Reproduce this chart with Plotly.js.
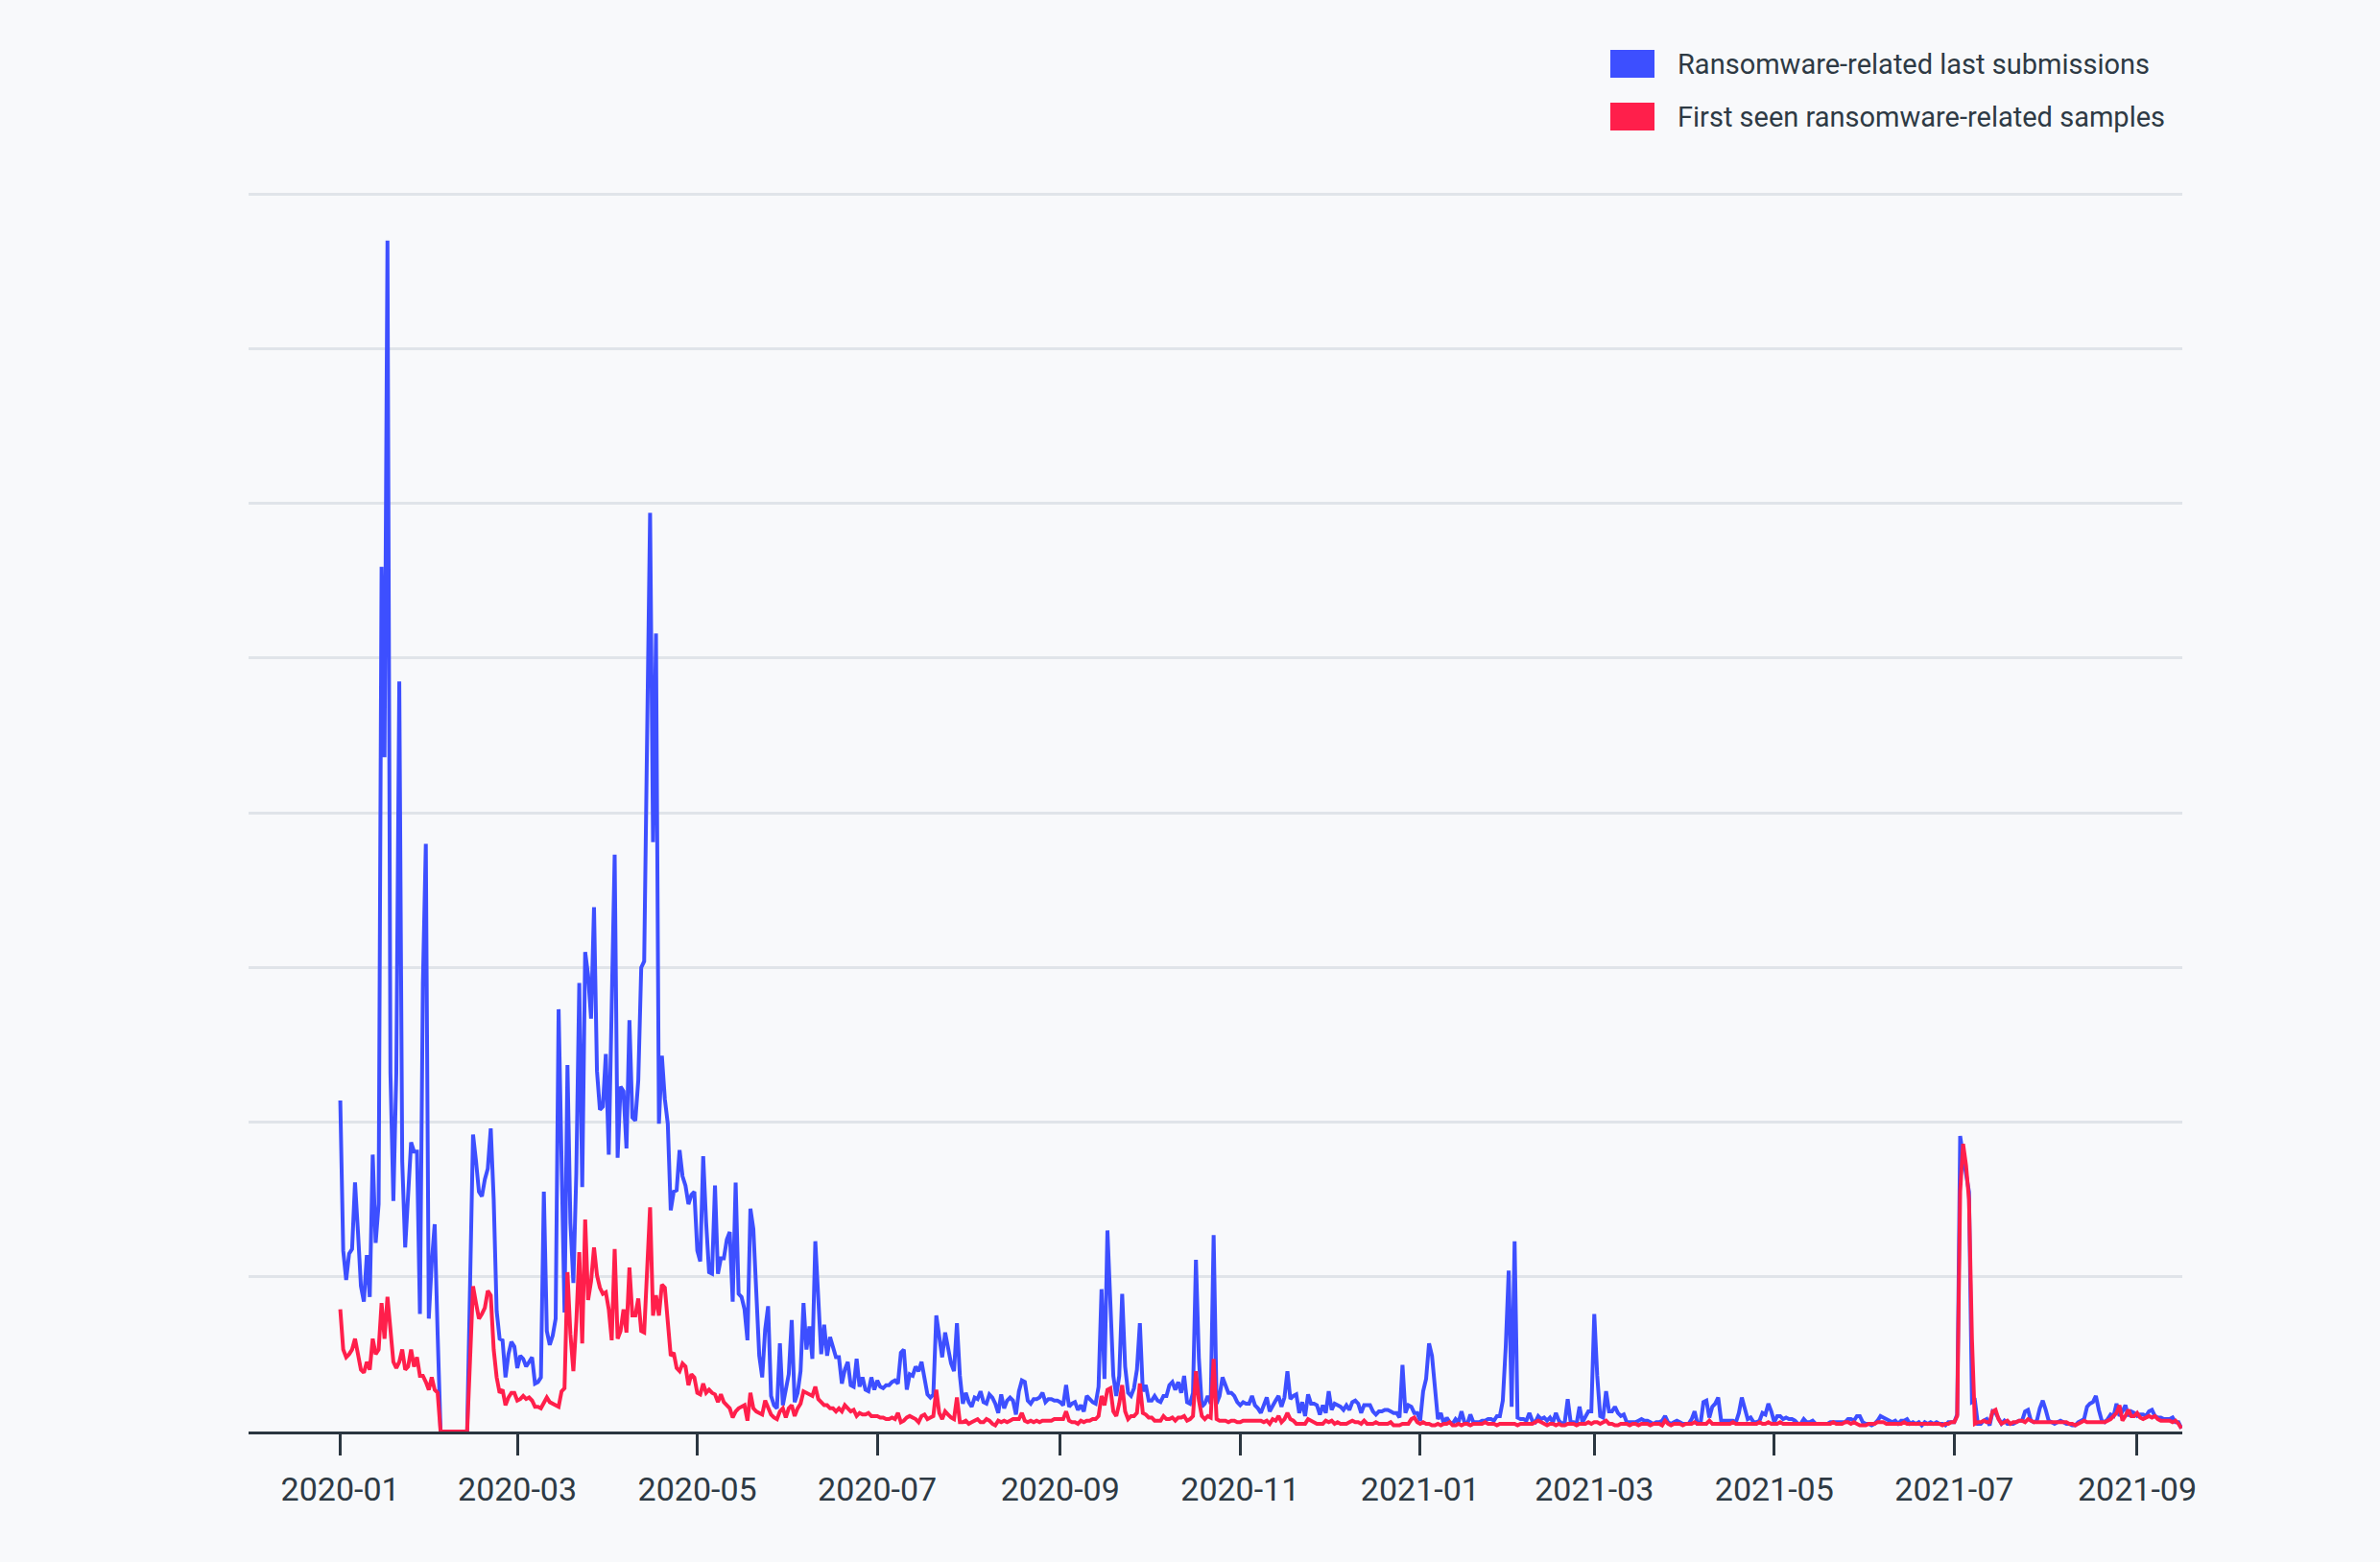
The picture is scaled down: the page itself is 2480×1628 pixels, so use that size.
<!DOCTYPE html>
<html>
<head>
<meta charset="utf-8">
<script src="https://cdn.plot.ly/plotly-3.0.1.min.js"></script>
<style>
  html, body { margin: 0; padding: 0; background: #f8f9fb; }
  #chart { width: 2480px; height: 1628px; }
</style>
</head>
<body>
<div id="chart"></div>
<script>
///////////////////////////////////////////////////////////////////////////////
// daily values from 2020-01-01, one gridline = 1 unit (axis has no labels)
const startDay = '2020-01-01';

const lastSubmissions = [
  // 2020-01
  2.14, 1.17, 0.98, 1.15, 1.18, 1.61, 1.29, 0.94, 0.84, 1.14, 0.87, 1.79, 1.22, 1.47, 5.59, 4.36,
  7.70, 2.32, 1.49, 2.32, 4.85, 1.75, 1.19, 1.50, 1.87, 1.81, 1.81, 0.76, 2.90, 3.80, 0.73,
  // 2020-02
  1.09, 1.34, 0.63, 0, 0, 0, 0, 0, 0, 0, 0, 0, 0, 0.96, 1.92, 1.75, 1.55, 1.52, 1.63, 1.70,
  1.96, 1.50, 0.78, 0.60, 0.59, 0.35, 0.50, 0.58, 0.55,
  // 2020-03
  0.41, 0.49, 0.47, 0.42, 0.45, 0.48, 0.31, 0.32, 0.35, 1.55, 0.65, 0.56, 0.62, 0.73, 2.73, 1.59,
  0.77, 2.37, 1.35, 0.96, 1.67, 2.90, 1.58, 3.10, 2.95, 2.67, 3.39, 2.33, 2.08, 2.10, 2.44,
  // 2020-04
  1.79, 2.75, 3.73, 1.77, 2.23, 2.20, 1.83, 2.66, 2.03, 2.01, 2.27, 3.00, 3.04, 4.50, 5.94, 3.81,
  5.16, 1.99, 2.43, 2.15, 1.99, 1.43, 1.55, 1.56, 1.82, 1.65, 1.59, 1.47, 1.53, 1.55,
  // 2020-05
  1.17, 1.10, 1.78, 1.35, 1.03, 1.02, 1.59, 1.02, 1.12, 1.12, 1.24, 1.29, 0.84, 1.61, 0.89, 0.87,
  0.79, 0.59, 1.44, 1.31, 0.95, 0.49, 0.35, 0.66, 0.81, 0.23, 0.17, 0.15, 0.57, 0.17, 0.27,
  // 2020-06
  0.37, 0.72, 0.19, 0.25, 0.39, 0.83, 0.53, 0.68, 0.47, 1.23, 0.91, 0.50, 0.69, 0.49, 0.61, 0.54,
  0.48, 0.48, 0.31, 0.40, 0.45, 0.30, 0.29, 0.47, 0.29, 0.35, 0.27, 0.26, 0.35, 0.27,
  // 2020-07
  0.33, 0.29, 0.28, 0.30, 0.30, 0.32, 0.33, 0.31, 0.51, 0.53, 0.27, 0.37, 0.36, 0.42, 0.39, 0.45,
  0.34, 0.24, 0.22, 0.24, 0.75, 0.59, 0.48, 0.64, 0.55, 0.44, 0.39, 0.70, 0.36, 0.18, 0.25,
  // 2020-08
  0.19, 0.16, 0.22, 0.21, 0.26, 0.19, 0.18, 0.24, 0.22, 0.18, 0.12, 0.24, 0.15, 0.20, 0.22, 0.20,
  0.11, 0.26, 0.33, 0.32, 0.20, 0.18, 0.21, 0.21, 0.22, 0.25, 0.19, 0.21, 0.21, 0.20, 0.20,
  // 2020-09
  0.19, 0.17, 0.30, 0.16, 0.18, 0.19, 0.14, 0.17, 0.13, 0.23, 0.21, 0.19, 0.18, 0.29, 0.92, 0.34,
  1.30, 0.88, 0.36, 0.23, 0.36, 0.89, 0.42, 0.25, 0.23, 0.28, 0.40, 0.70, 0.26, 0.30,
  // 2020-10
  0.20, 0.20, 0.23, 0.20, 0.19, 0.23, 0.23, 0.30, 0.32, 0.27, 0.32, 0.25, 0.36, 0.19, 0.18, 0.25,
  1.11, 0.47, 0.16, 0.18, 0.23, 0.18, 1.27, 0.18, 0.23, 0.35, 0.30, 0.25, 0.25, 0.23, 0.19,
  // 2020-11
  0.17, 0.19, 0.18, 0.18, 0.23, 0.17, 0.15, 0.12, 0.17, 0.22, 0.13, 0.17, 0.20, 0.23, 0.16, 0.22,
  0.39, 0.21, 0.23, 0.24, 0.12, 0.19, 0.10, 0.24, 0.18, 0.18, 0.17, 0.11, 0.17, 0.12,
  // 2020-12
  0.26, 0.14, 0.18, 0.17, 0.16, 0.14, 0.17, 0.14, 0.19, 0.20, 0.18, 0.12, 0.17, 0.17, 0.17, 0.13,
  0.11, 0.13, 0.13, 0.14, 0.14, 0.13, 0.12, 0.12, 0.09, 0.43, 0.12, 0.17, 0.16, 0.12, 0.12,
  // 2021-01
  0.07, 0.26, 0.34, 0.57, 0.49, 0.30, 0.08, 0.12, 0.05, 0.09, 0.06, 0.05, 0.08, 0.06, 0.13, 0.06,
  0.05, 0.11, 0.06, 0.06, 0.06, 0.07, 0.07, 0.08, 0.08, 0.07, 0.10, 0.10, 0.20, 0.55, 1.04,
  // 2021-02
  0.16, 1.23, 0.09, 0.08, 0.08, 0.07, 0.12, 0.07, 0.06, 0.10, 0.08, 0.09, 0.07, 0.09, 0.06, 0.12,
  0.07, 0.05, 0.06, 0.21, 0.06, 0.06, 0.05, 0.16, 0.06, 0.10, 0.13, 0.13,
  // 2021-03
  0.76, 0.36, 0.10, 0.09, 0.26, 0.13, 0.13, 0.16, 0.12, 0.10, 0.11, 0.06, 0.06, 0.06, 0.06, 0.07,
  0.08, 0.07, 0.07, 0.06, 0.05, 0.06, 0.06, 0.07, 0.10, 0.06, 0.05, 0.06, 0.07, 0.06, 0.05,
  // 2021-04
  0.05, 0.05, 0.08, 0.13, 0.05, 0.05, 0.19, 0.20, 0.09, 0.16, 0.18, 0.22, 0.07, 0.07, 0.07, 0.07,
  0.07, 0.06, 0.12, 0.22, 0.14, 0.08, 0.09, 0.06, 0.06, 0.07, 0.12, 0.11, 0.18, 0.13,
  // 2021-05
  0.06, 0.10, 0.10, 0.08, 0.09, 0.08, 0.08, 0.07, 0.05, 0.05, 0.08, 0.06, 0.06, 0.07, 0.05, 0.05,
  0.05, 0.05, 0.05, 0.06, 0.06, 0.06, 0.06, 0.06, 0.06, 0.08, 0.08, 0.07, 0.10, 0.10, 0.06,
  // 2021-06
  0.05, 0.05, 0.04, 0.05, 0.07, 0.10, 0.09, 0.08, 0.07, 0.06, 0.07, 0.05, 0.07, 0.07, 0.08, 0.05,
  0.06, 0.05, 0.06, 0.04, 0.06, 0.05, 0.06, 0.05, 0.06, 0.05, 0.05, 0.04, 0.06, 0.06,
  // 2021-07
  0.06, 0.11, 1.91, 1.78, 1.66, 1.55, 0.19, 0.20, 0.05, 0.05, 0.07, 0.08, 0.04, 0.13, 0.12, 0.08,
  0.05, 0.07, 0.05, 0.05, 0.05, 0.06, 0.07, 0.07, 0.13, 0.14, 0.07, 0.06, 0.07, 0.15, 0.20,
  // 2021-08
  0.14, 0.07, 0.06, 0.05, 0.06, 0.07, 0.06, 0.05, 0.05, 0.04, 0.04, 0.06, 0.07, 0.08, 0.16, 0.18,
  0.19, 0.23, 0.14, 0.07, 0.06, 0.08, 0.11, 0.10, 0.18, 0.10, 0.13, 0.17, 0.10, 0.13, 0.12,
  // 2021-09
  0.10, 0.11, 0.11, 0.10, 0.13, 0.14, 0.10, 0.09, 0.09, 0.08, 0.08, 0.08, 0.09, 0.06, 0.06, 0.02
];

const firstSeen = [
  // 2020-01
  0.79, 0.53, 0.48, 0.50, 0.53, 0.60, 0.50, 0.40, 0.38, 0.45, 0.40, 0.60, 0.50, 0.53, 0.83, 0.60,
  0.87, 0.63, 0.45, 0.41, 0.45, 0.53, 0.40, 0.42, 0.53, 0.42, 0.48, 0.36, 0.36, 0.32, 0.27,
  // 2020-02
  0.35, 0.27, 0.25, 0, 0, 0, 0, 0, 0, 0, 0, 0, 0, 0.47, 0.94, 0.83, 0.73, 0.76, 0.80, 0.91,
  0.88, 0.53, 0.35, 0.25, 0.27, 0.17, 0.22, 0.25, 0.25,
  // 2020-03
  0.20, 0.21, 0.23, 0.21, 0.22, 0.20, 0.16, 0.16, 0.15, 0.19, 0.22, 0.19, 0.18, 0.17, 0.16, 0.26,
  0.28, 1.03, 0.63, 0.39, 0.71, 1.16, 0.57, 1.37, 0.85, 0.97, 1.19, 1.01, 0.93, 0.89, 0.90,
  // 2020-04
  0.79, 0.59, 1.18, 0.60, 0.65, 0.79, 0.64, 1.06, 0.75, 0.75, 0.86, 0.65, 0.64, 1.03, 1.45, 0.75,
  0.88, 0.75, 0.95, 0.93, 0.71, 0.49, 0.51, 0.41, 0.39, 0.44, 0.42, 0.30, 0.37, 0.35,
  // 2020-05
  0.25, 0.24, 0.31, 0.25, 0.27, 0.25, 0.24, 0.19, 0.24, 0.19, 0.17, 0.15, 0.09, 0.13, 0.15, 0.16,
  0.17, 0.07, 0.25, 0.15, 0.13, 0.12, 0.11, 0.20, 0.15, 0.11, 0.09, 0.08, 0.13, 0.15, 0.09,
  // 2020-06
  0.15, 0.17, 0.10, 0.15, 0.18, 0.26, 0.25, 0.24, 0.23, 0.29, 0.21, 0.19, 0.17, 0.17, 0.15, 0.15,
  0.13, 0.15, 0.13, 0.17, 0.15, 0.13, 0.14, 0.10, 0.12, 0.11, 0.11, 0.12, 0.10, 0.10,
  // 2020-07
  0.10, 0.09, 0.09, 0.08, 0.08, 0.09, 0.08, 0.12, 0.06, 0.07, 0.09, 0.10, 0.09, 0.08, 0.06, 0.10,
  0.11, 0.08, 0.09, 0.10, 0.27, 0.12, 0.08, 0.13, 0.11, 0.09, 0.08, 0.22, 0.06, 0.06, 0.07,
  // 2020-08
  0.05, 0.06, 0.07, 0.08, 0.06, 0.06, 0.08, 0.07, 0.05, 0.04, 0.07, 0.06, 0.07, 0.06, 0.07, 0.08,
  0.08, 0.08, 0.12, 0.07, 0.06, 0.07, 0.06, 0.07, 0.06, 0.07, 0.07, 0.07, 0.07, 0.08, 0.08,
  // 2020-09
  0.08, 0.08, 0.13, 0.07, 0.06, 0.06, 0.05, 0.07, 0.06, 0.07, 0.07, 0.08, 0.08, 0.10, 0.23, 0.17,
  0.27, 0.28, 0.13, 0.10, 0.18, 0.30, 0.13, 0.08, 0.10, 0.10, 0.12, 0.31, 0.12, 0.11,
  // 2020-10
  0.09, 0.09, 0.07, 0.07, 0.07, 0.10, 0.08, 0.08, 0.09, 0.07, 0.09, 0.09, 0.10, 0.07, 0.08, 0.10,
  0.39, 0.20, 0.10, 0.08, 0.10, 0.09, 0.47, 0.08, 0.07, 0.07, 0.07, 0.06, 0.07, 0.07, 0.06,
  // 2020-11
  0.06, 0.07, 0.07, 0.07, 0.07, 0.07, 0.07, 0.07, 0.06, 0.07, 0.05, 0.08, 0.07, 0.10, 0.06, 0.08,
  0.12, 0.08, 0.07, 0.05, 0.05, 0.05, 0.05, 0.08, 0.07, 0.06, 0.05, 0.05, 0.05, 0.07,
  // 2020-12
  0.06, 0.07, 0.05, 0.06, 0.05, 0.05, 0.05, 0.06, 0.07, 0.06, 0.06, 0.05, 0.07, 0.05, 0.05, 0.05,
  0.06, 0.05, 0.05, 0.05, 0.05, 0.06, 0.04, 0.04, 0.04, 0.05, 0.05, 0.05, 0.08, 0.09, 0.06,
  // 2021-01
  0.05, 0.06, 0.05, 0.05, 0.04, 0.04, 0.05, 0.04, 0.05, 0.05, 0.06, 0.04, 0.04, 0.05, 0.04, 0.05,
  0.05, 0.04, 0.05, 0.05, 0.05, 0.05, 0.06, 0.05, 0.05, 0.05, 0.04, 0.05, 0.05, 0.05, 0.05,
  // 2021-02
  0.05, 0.05, 0.04, 0.05, 0.05, 0.05, 0.05, 0.05, 0.06, 0.07, 0.06, 0.05, 0.04, 0.05, 0.05, 0.04,
  0.05, 0.04, 0.04, 0.05, 0.05, 0.05, 0.04, 0.05, 0.05, 0.05, 0.06, 0.05,
  // 2021-03
  0.06, 0.06, 0.05, 0.06, 0.07, 0.05, 0.05, 0.04, 0.04, 0.05, 0.05, 0.05, 0.04, 0.05, 0.05, 0.04,
  0.05, 0.05, 0.05, 0.04, 0.05, 0.05, 0.05, 0.04, 0.07, 0.05, 0.04, 0.05, 0.05, 0.05, 0.04,
  // 2021-04
  0.05, 0.05, 0.05, 0.06, 0.05, 0.05, 0.05, 0.05, 0.07, 0.05, 0.05, 0.05, 0.05, 0.05, 0.05, 0.05,
  0.06, 0.05, 0.05, 0.05, 0.05, 0.05, 0.05, 0.05, 0.05, 0.06, 0.05, 0.05, 0.06, 0.05,
  // 2021-05
  0.05, 0.05, 0.06, 0.05, 0.05, 0.05, 0.05, 0.05, 0.05, 0.05, 0.05, 0.05, 0.05, 0.05, 0.05, 0.05,
  0.05, 0.05, 0.05, 0.05, 0.06, 0.05, 0.05, 0.05, 0.06, 0.06, 0.05, 0.06, 0.05, 0.04, 0.04,
  // 2021-06
  0.04, 0.05, 0.05, 0.05, 0.06, 0.06, 0.06, 0.05, 0.05, 0.05, 0.05, 0.05, 0.05, 0.06, 0.05, 0.05,
  0.05, 0.05, 0.05, 0.05, 0.05, 0.05, 0.05, 0.05, 0.05, 0.05, 0.04, 0.05, 0.05, 0.06,
  // 2021-07
  0.06, 0.10, 1.55, 1.86, 1.72, 1.50, 0.60, 0.05, 0.06, 0.06, 0.07, 0.06, 0.06, 0.13, 0.14, 0.08,
  0.05, 0.06, 0.07, 0.05, 0.06, 0.06, 0.07, 0.07, 0.06, 0.08, 0.07, 0.06, 0.06, 0.06, 0.06,
  // 2021-08
  0.06, 0.06, 0.06, 0.06, 0.06, 0.06, 0.06, 0.06, 0.05, 0.05, 0.04, 0.05, 0.06, 0.07, 0.06, 0.06,
  0.06, 0.06, 0.06, 0.06, 0.06, 0.07, 0.08, 0.10, 0.12, 0.17, 0.07, 0.10, 0.14, 0.10, 0.10,
  // 2021-09
  0.12, 0.09, 0.08, 0.09, 0.10, 0.09, 0.10, 0.08, 0.07, 0.07, 0.07, 0.07, 0.06, 0.07, 0.05, 0.02
];

const seriesNames = ['Ransomware-related last submissions', 'First seen ransomware-related samples'];
const seriesColors = ['#3d4fff', '#ff1f4b'];


///////////////////////////////////////////////////////////////////////////////
function day_list(start, n)
{
    let out = [];
    let t0 = Date.parse(start + 'T00:00:00Z');
    for(let i = 0; i < n; i++) out.push(new Date(t0 + i * 86400000).toISOString().slice(0, 10));
    return out;
}


function graph_create(container)
{
    let days = day_list(startDay, lastSubmissions.length);
    let values = [lastSubmissions, firstSeen];

    let plot_traces = values.map((ys, i) => ({
        x: days, y: ys,
        type: 'scatter', mode: 'lines',
        name: seriesNames[i],
        line: {color: seriesColors[i], width: 4},
        hoverinfo: 'skip',
        showlegend: false,
    }));

    // legend drawn by hand in pixel terms: coloured boxes + labels above the plot
    const W = 2480, H = 1628;
    const m = {l: 259, r: 206, t: 154, b: 136};
    const px = v => (v - m.l) / (W - m.l - m.r);
    const py = v => (H - m.b - v) / (H - m.t - m.b);

    let shapes = [];
    let annotations = [];
    let box_top = [52, 107];
    seriesNames.forEach((name, i) => {
        shapes.push({
            type: 'rect', xref: 'paper', yref: 'paper',
            x0: px(1678), x1: px(1724), y0: py(box_top[i] + 29), y1: py(box_top[i]),
            fillcolor: seriesColors[i], line: {width: 0},
        });
        annotations.push({
            xref: 'paper', yref: 'paper', x: px(1746), y: py(box_top[i] + 15),
            xanchor: 'left', yanchor: 'middle', showarrow: false,
            text: name, font: {size: 29, color: '#2e3a44'},
        });
    });

    let plot_layout = {
        width: W, height: H,
        margin: m,
        paper_bgcolor: '#f8f9fb',
        plot_bgcolor: '#f8f9fb',
        font: {family: 'Roboto, "Open Sans", sans-serif', color: '#2e3a44'},
        showlegend: false,
        xaxis: {
            type: 'date',
            range: ['2019-11-30 22:00', '2021-09-16 07:00'],
            tick0: '2020-01-01', dtick: 'M2', tickformat: '%Y-%m',
            showgrid: false, zeroline: false,
            showline: true, linecolor: '#2b3640', linewidth: 3,
            ticks: 'outside', ticklen: 22, tickwidth: 3, tickcolor: '#2b3640',
            ticklabelstandoff: 6,
            tickfont: {size: 34, color: '#2e3a44'},
        },
        yaxis: {
            range: [0, 8.3], dtick: 1,
            showticklabels: false, zeroline: false, showline: false,
            gridcolor: '#e0e4e9', gridwidth: 3,
        },
        shapes: shapes,
        annotations: annotations,
    };

    let plot_container = document.getElementById(container);
    Plotly.newPlot(plot_container, plot_traces, plot_layout, {staticPlot: true, displayModeBar: false});
    return plot_container;
}

graph_create('chart');
</script>
</body>
</html>
